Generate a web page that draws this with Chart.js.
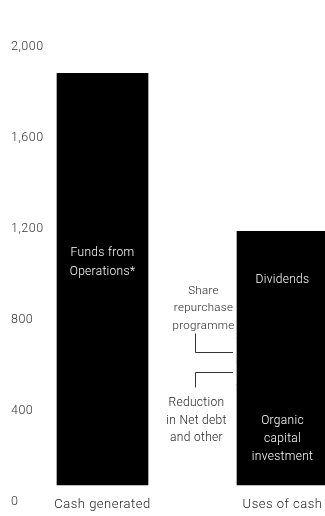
<!DOCTYPE html>
<html><head><meta charset="utf-8">
<script src="https://cdn.jsdelivr.net/npm/chart.js@4.4.1/dist/chart.umd.min.js"></script>
<style>html,body{margin:0;padding:0;background:#fff;}#wrap{width:325px;height:516px;position:relative;}</style>
</head><body><div id="wrap"><canvas id="c" width="325" height="516"></canvas></div>
<script>
const categories = ['Cash generated', 'Uses of cash'];
const fundsFromOperations = [1810, null];
const organicCapitalInvestment = [null, 440];
const reductionInNetDebt = [null, 100];
const shareRepurchase = [null, 105];
const dividends = [null, 470];
const yTicks = [0, 400, 800, 1200, 1600, 2000];

const FONT = 'Roboto, "Liberation Sans", sans-serif';

function ds(label, data) {
  return { label, data, backgroundColor: '#000', borderWidth: 0, barThickness: 91, clip: false };
}

const spacing = {
  id: 'spacing',
  beforeDraw(chart) { chart.ctx.letterSpacing = '0.5px'; }
};

const annot = {
  id: 'annot',
  afterDatasetsDraw(chart) {
    const { ctx, scales: { x, y } } = chart;
    const cx1 = x.getPixelForValue(0);
    const cx2 = x.getPixelForValue(1);
    const gapX = x.getPixelForValue(0.5);
    const bar2 = chart.getDatasetMeta(1).data[1];
    const bar2Left = bar2.x - bar2.width / 2;
    const o = organicCapitalInvestment[1], r = reductionInNetDebt[1], s = shareRepurchase[1], d = dividends[1];
    ctx.save();
    ctx.letterSpacing = '0.3px';
    ctx.textAlign = 'center';
    ctx.textBaseline = 'middle';
    ctx.font = '300 12px ' + FONT;
    // inside bars
    ctx.fillStyle = '#fff';
    const fy = y.getPixelForValue(fundsFromOperations[0] * 0.54);
    ctx.fillText('Funds from', cx1, fy - 9.5);
    ctx.fillText('Operations*', cx1, fy + 9.5);
    const dy = y.getPixelForValue(o + r + s + d * 0.545);
    ctx.fillText('Dividends', cx2, dy);
    const oy = y.getPixelForValue(o * 0.46);
    ctx.fillText('Organic', cx2, oy - 18);
    ctx.fillText('capital', cx2, oy);
    ctx.fillText('investment', cx2, oy + 18);
    // brackets
    ctx.strokeStyle = '#333';
    ctx.lineWidth = 1;
    const vx = Math.round(gapX + 2.5) + 0.5;
    const hx2 = Math.round(bar2Left - 4);
    const sy = Math.round(y.getPixelForValue(o + r + s * 0.42)) + 0.5;
    const ry = Math.round(y.getPixelForValue(o + r * 0.57)) + 0.5;
    ctx.beginPath();
    ctx.moveTo(vx, sy - 19); ctx.lineTo(vx, sy); ctx.lineTo(hx2, sy);
    ctx.moveTo(hx2, ry); ctx.lineTo(vx, ry); ctx.lineTo(vx, ry + 15);
    ctx.stroke();
    ctx.fillStyle = '#222';
    ctx.font = '300 11.5px ' + FONT;
    const sxText = gapX + 11;
    ctx.fillText('Share', sxText, sy - 61);
    ctx.fillText('repurchase', sxText, sy - 44);
    ctx.fillText('programme', sxText, sy - 26);
    ctx.font = '300 12px ' + FONT;
    const rxText = gapX + 4;
    ctx.fillText('Reduction', rxText, ry + 30);
    ctx.fillText('in Net debt', rxText, ry + 48);
    ctx.fillText('and other', rxText, ry + 65);
    ctx.restore();
  }
};

new Chart(document.getElementById('c'), {
  type: 'bar',
  data: {
    labels: categories,
    datasets: [
      ds('Funds from Operations*', fundsFromOperations),
      ds('Organic capital investment', organicCapitalInvestment),
      ds('Reduction in Net debt and other', reductionInNetDebt),
      ds('Share repurchase programme', shareRepurchase),
      ds('Dividends', dividends)
    ]
  },
  options: {
    responsive: false,
    animation: false,
    devicePixelRatio: 1,
    layout: { padding: { left: 11, right: 42.5, top: 30, bottom: 0 } },
    plugins: { legend: { display: false }, tooltip: { enabled: false }, title: { display: false } },
    scales: {
      x: {
        stacked: true,
        offset: false,
        grid: { display: false, drawTicks: false },
        border: { display: false },
        ticks: { color: '#222', font: { family: FONT, size: 13, weight: '300' }, padding: 12, maxRotation: 0, autoSkip: false },
        afterFit(scale) { scale.height = 31; scale.paddingLeft = 0; scale.paddingRight = 0; }
      },
      y: {
        stacked: true,
        min: 0, max: 2000,
        grid: { display: false, drawTicks: false },
        border: { display: false },
        afterBuildTicks(scale) { scale.ticks = yTicks.map(v => ({ value: v })); },
        ticks: {
          color: '#333', font: { family: FONT, size: 12.5, weight: '300' }, crossAlign: 'far', labelOffset: 17, padding: 0,
          callback: v => v.toLocaleString('en-US')
        },
        afterFit(scale) { scale.width = 91.5; scale.paddingTop = 0; scale.paddingBottom = 0; }
      }
    }
  },
  plugins: [spacing, annot]
});
</script>
</body></html>
